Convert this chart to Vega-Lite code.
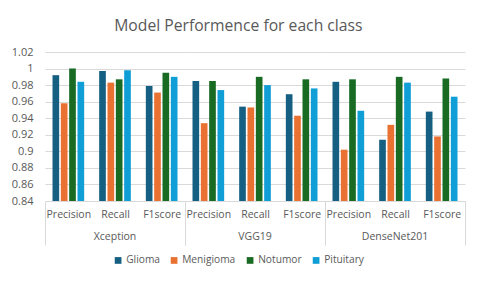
{
  "$schema": "https://vega.github.io/schema/vega-lite/v6.json",
  "padding": {"left": 11, "right": 15, "top": 18, "bottom": 4},
  "title": {"text": "Model Performence for each class", "fontSize": 15.7, "font": "Open Sans", "fontWeight": "normal", "color": "#595959", "anchor": "middle", "offset": 11},
  "data": {"values": [
    {"model": "Xception", "metric": "Precision", "cls": "Glioma", "value": 0.992},
    {"model": "Xception", "metric": "Precision", "cls": "Menigioma", "value": 0.958},
    {"model": "Xception", "metric": "Precision", "cls": "Notumor", "value": 1.000},
    {"model": "Xception", "metric": "Precision", "cls": "Pituitary", "value": 0.984},
    {"model": "Xception", "metric": "Recall", "cls": "Glioma", "value": 0.997},
    {"model": "Xception", "metric": "Recall", "cls": "Menigioma", "value": 0.983},
    {"model": "Xception", "metric": "Recall", "cls": "Notumor", "value": 0.987},
    {"model": "Xception", "metric": "Recall", "cls": "Pituitary", "value": 0.998},
    {"model": "Xception", "metric": "F1score", "cls": "Glioma", "value": 0.979},
    {"model": "Xception", "metric": "F1score", "cls": "Menigioma", "value": 0.971},
    {"model": "Xception", "metric": "F1score", "cls": "Notumor", "value": 0.995},
    {"model": "Xception", "metric": "F1score", "cls": "Pituitary", "value": 0.990},
    {"model": "VGG19", "metric": "Precision", "cls": "Glioma", "value": 0.985},
    {"model": "VGG19", "metric": "Precision", "cls": "Menigioma", "value": 0.934},
    {"model": "VGG19", "metric": "Precision", "cls": "Notumor", "value": 0.985},
    {"model": "VGG19", "metric": "Precision", "cls": "Pituitary", "value": 0.974},
    {"model": "VGG19", "metric": "Recall", "cls": "Glioma", "value": 0.954},
    {"model": "VGG19", "metric": "Recall", "cls": "Menigioma", "value": 0.953},
    {"model": "VGG19", "metric": "Recall", "cls": "Notumor", "value": 0.990},
    {"model": "VGG19", "metric": "Recall", "cls": "Pituitary", "value": 0.980},
    {"model": "VGG19", "metric": "F1score", "cls": "Glioma", "value": 0.969},
    {"model": "VGG19", "metric": "F1score", "cls": "Menigioma", "value": 0.943},
    {"model": "VGG19", "metric": "F1score", "cls": "Notumor", "value": 0.987},
    {"model": "VGG19", "metric": "F1score", "cls": "Pituitary", "value": 0.976},
    {"model": "DenseNet201", "metric": "Precision", "cls": "Glioma", "value": 0.984},
    {"model": "DenseNet201", "metric": "Precision", "cls": "Menigioma", "value": 0.902},
    {"model": "DenseNet201", "metric": "Precision", "cls": "Notumor", "value": 0.987},
    {"model": "DenseNet201", "metric": "Precision", "cls": "Pituitary", "value": 0.949},
    {"model": "DenseNet201", "metric": "Recall", "cls": "Glioma", "value": 0.914},
    {"model": "DenseNet201", "metric": "Recall", "cls": "Menigioma", "value": 0.932},
    {"model": "DenseNet201", "metric": "Recall", "cls": "Notumor", "value": 0.990},
    {"model": "DenseNet201", "metric": "Recall", "cls": "Pituitary", "value": 0.983},
    {"model": "DenseNet201", "metric": "F1score", "cls": "Glioma", "value": 0.948},
    {"model": "DenseNet201", "metric": "F1score", "cls": "Menigioma", "value": 0.918},
    {"model": "DenseNet201", "metric": "F1score", "cls": "Notumor", "value": 0.988},
    {"model": "DenseNet201", "metric": "F1score", "cls": "Pituitary", "value": 0.966}
  ]},
  "facet": {
    "column": {
      "field": "model", "type": "nominal",
      "sort": ["Xception", "VGG19", "DenseNet201"],
      "title": null,
      "header": {"labelOrient": "bottom", "labelFontSize": 10.5, "labelColor": "#595959", "labelFont": "Open Sans", "labelPadding": -14}
    }
  },
  "spacing": 0,
  "spec": {
    "width": 140,
    "height": 149,
    "mark": {"type": "bar"},
    "encoding": {
      "x": {
        "field": "metric", "type": "nominal",
        "sort": ["Precision", "Recall", "F1score"],
        "title": null,
        "scale": {"paddingInner": 0, "paddingOuter": 0},
        "axis": {
          "labelAngle": 0,
          "labelFontSize": 10.5,
          "labelColor": "#595959",
          "labelPadding": -36,
          "domainColor": "#d9d9d9",
          "tickBand": "extent",
          "tickSize": 44,
          "tickColor": "#d9d9d9",
          "tickOpacity": {"condition": {"test": "datum.value === 'F1score' || datum.extra", "value": 1}, "value": 0}
        }
      },
      "xOffset": {
        "field": "cls", "type": "nominal",
        "sort": ["Glioma", "Menigioma", "Notumor", "Pituitary"],
        "scale": {"paddingInner": 0.2, "paddingOuter": 0.9}
      },
      "y": {
        "field": "value", "type": "quantitative",
        "scale": {"domain": [0.84, 1.02], "nice": false, "zero": false},
        "axis": {
          "title": null,
          "values": [0.84, 0.86, 0.88, 0.9, 0.92, 0.94, 0.96, 0.98, 1, 1.02],
          "format": "~g",
          "grid": true,
          "gridColor": "#d9d9d9",
          "domain": false,
          "ticks": false,
          "labelPadding": 12,
          "labelFontSize": 11,
          "labelColor": "#595959"
        }
      },
      "y2": {"datum": 0.84},
      "color": {
        "field": "cls", "type": "nominal",
        "sort": ["Glioma", "Menigioma", "Notumor", "Pituitary"],
        "scale": {"domain": ["Glioma", "Menigioma", "Notumor", "Pituitary"], "range": ["#156082", "#E97132", "#196B24", "#0F9ED5"]},
        "legend": {
          "orient": "bottom",
          "title": null,
          "symbolType": "square",
          "symbolSize": 45,
          "labelFontSize": 10.2,
          "labelOffset": 3,
          "labelColor": "#595959",
          "columnPadding": 9,
          "offset": 9
        }
      }
    }
  },
  "config": {
    "font": "Open Sans",
    "view": {"stroke": null},
    "axis": {"labelFont": "Open Sans"},
    "legend": {"labelFont": "Open Sans", "layout": {"bottom": {"anchor": "middle"}}}
  }
}
